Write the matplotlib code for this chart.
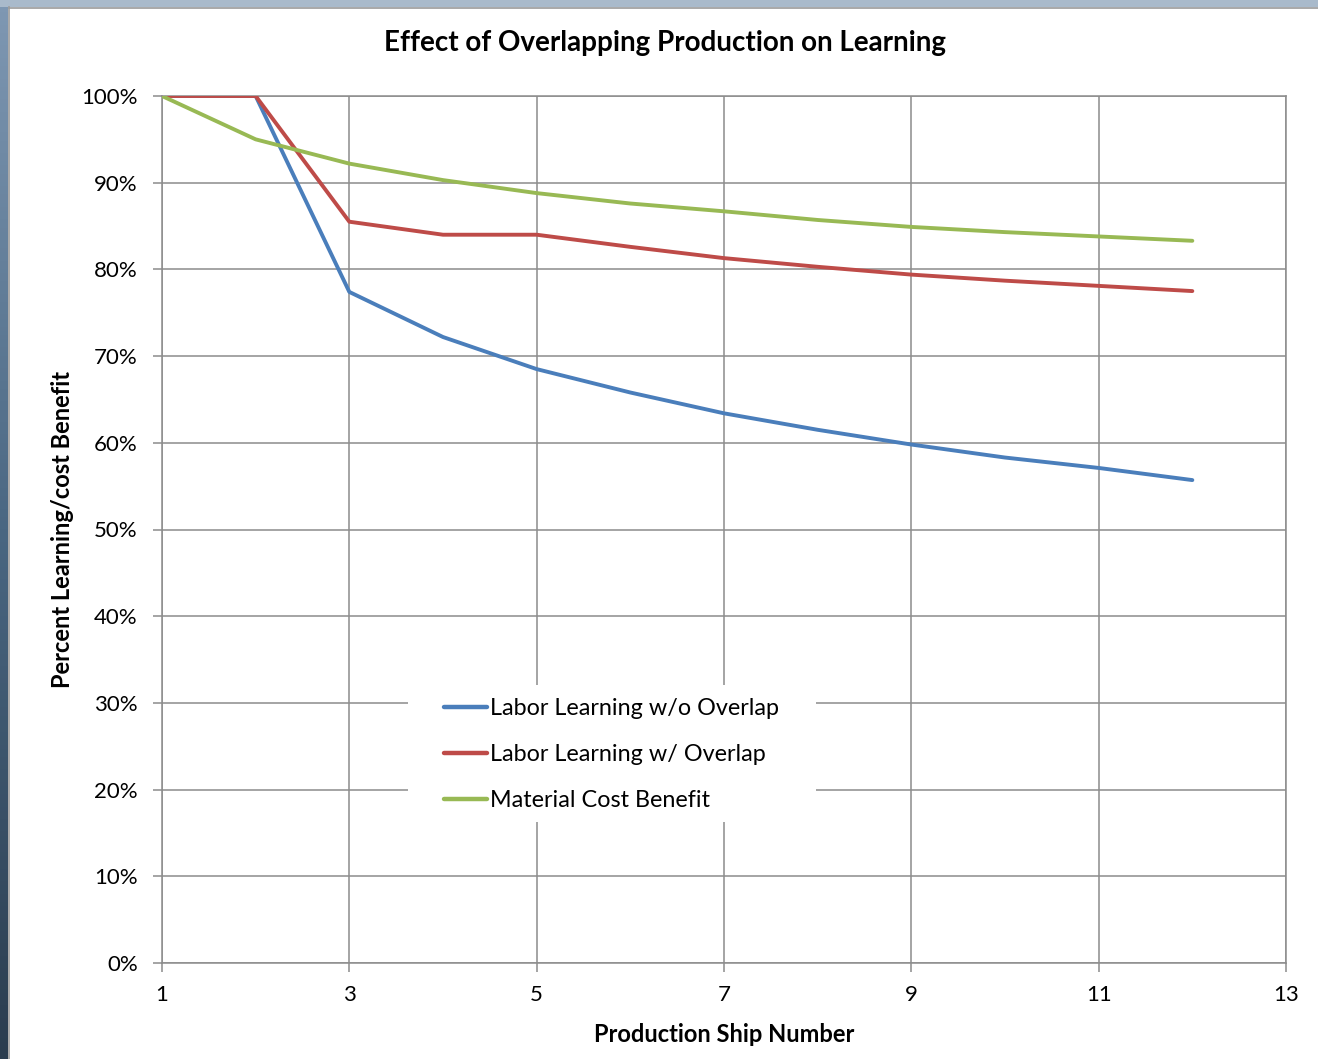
import numpy as np
import matplotlib
matplotlib.use("Agg")
import matplotlib.pyplot as plt
from matplotlib.ticker import PercentFormatter
from matplotlib.patches import Rectangle
from matplotlib.lines import Line2D

# ship numbers and the three learning/cost curves (fraction of first-ship cost)
ships = [1, 2, 3, 4, 5, 6, 7, 8, 9, 10, 11, 12]
labor_no_overlap = [1.00, 1.00, 0.774, 0.722, 0.685, 0.658, 0.634, 0.615, 0.598, 0.583, 0.571, 0.557]
labor_overlap = [1.00, 1.00, 0.855, 0.840, 0.840, 0.826, 0.813, 0.803, 0.794, 0.787, 0.781, 0.775]
material_cost = [1.00, 0.950, 0.922, 0.903, 0.888, 0.876, 0.867, 0.857, 0.849, 0.843, 0.838, 0.833]

series_labels = ["Labor Learning w/o Overlap", "Labor Learning w/ Overlap", "Material Cost Benefit"]
series_colors = ["#4A7EBB", "#BE4B48", "#98B954"]

W, H = 1318, 1059
plt.rcParams["font.family"] = ["Lato", "DejaVu Sans"]
fig = plt.figure(figsize=(W / 100, H / 100), dpi=100)
fig.patch.set_facecolor("white")

# slide background peeking out on the left and top edges
bg = fig.add_axes([0, 0, 8 / W, 1])
grad = np.linspace(0, 1, 256).reshape(-1, 1)
bg.imshow(grad, aspect="auto", cmap=matplotlib.colors.LinearSegmentedColormap.from_list(
    "bg", ["#7f98b3", "#4a6782", "#2b3d4f"]), extent=[0, 1, 0, 1], origin="upper")
bg.axis("off")
fig.patches.append(Rectangle((0, 1 - 7 / H), 1, 7 / H, transform=fig.transFigure,
                             facecolor="#a9bacb", edgecolor="none", zorder=0))
fig.lines.append(Line2D([8.5 / W, 8.5 / W], [0, 1 - 7 / H], transform=fig.transFigure,
                        color="#9a9a9a", lw=1.2))
fig.lines.append(Line2D([8.5 / W, 1], [1 - 7.5 / H, 1 - 7.5 / H], transform=fig.transFigure,
                        color="#9a9a9a", lw=1.2))

ax = fig.add_axes([162 / W, 1 - 963 / H, (1286 - 162) / W, (963 - 96) / H])
for vals, lab, col in zip([labor_no_overlap, labor_overlap, material_cost], series_labels, series_colors):
    ax.plot(ships, vals, color=col, lw=2.8, label=lab, solid_capstyle="round", zorder=3)

GRID = "#8c8c8c"
ax.set_xlim(1, 13)
ax.set_ylim(0, 1)
ax.set_xticks(range(1, 14, 2))
ax.set_yticks(np.arange(0, 1.01, 0.1))
ax.yaxis.set_major_formatter(PercentFormatter(1.0, decimals=0))
ax.grid(True, color=GRID, lw=1.1)
for s in ax.spines.values():
    s.set_color(GRID)
    s.set_linewidth(1.1)
ax.tick_params(axis="both", colors=GRID, length=6.5, width=1.1, labelsize=16, labelcolor="black")
ax.tick_params(axis="x", pad=9)
ax.tick_params(axis="y", pad=11)

fig.text(665 / W, 1 - 43 / H, "Effect of Overlapping Production on Learning", fontsize=20,
         fontweight="bold", ha="center", va="center")
ax.set_xlabel("Production Ship Number", fontsize=17, fontweight="bold", labelpad=13)
ax.set_ylabel("Percent Learning/cost Benefit", fontsize=17, fontweight="bold", labelpad=5)

# white patch behind the legend, wider than the legend text itself
ax.add_patch(Rectangle((408 / W, 1 - 822 / H), (816 - 408) / W, (822 - 685) / H,
                       transform=fig.transFigure, facecolor="white", edgecolor="none", zorder=2.5))
leg = ax.legend(loc="upper left", bbox_to_anchor=(444 / W, 1 - 698 / H), bbox_transform=fig.transFigure,
                frameon=False, fontsize=16.8, handlelength=1.85, handletextpad=0.13,
                labelspacing=1.07, borderpad=0, borderaxespad=0)
leg.set_zorder(4)
for line in leg.get_lines():
    line.set_linewidth(3.2)

fig.savefig("out.png", dpi=100)
